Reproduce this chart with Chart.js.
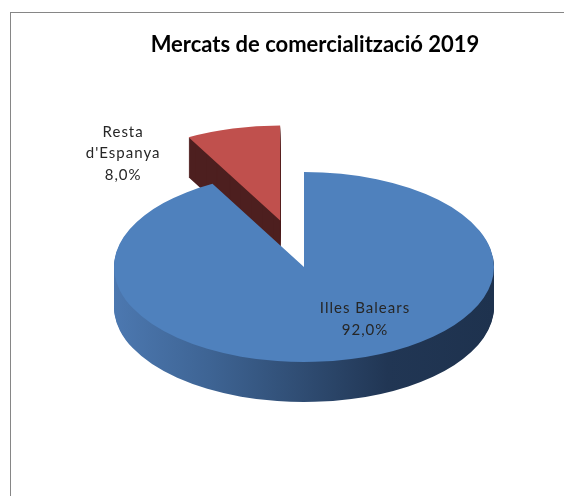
<!DOCTYPE html>
<html><head><meta charset="utf-8">
<script src="https://cdn.jsdelivr.net/npm/chart.js@4"></script>
<style>
html,body{margin:0;padding:0;background:#fff;overflow:hidden;width:564px;height:496px;}
#frame{position:absolute;left:10px;top:12px;width:700px;height:700px;border:1px solid #868686;box-sizing:border-box;}
#c{position:absolute;left:0;top:0;}
</style></head><body>
<div id="frame"></div>
<canvas id="c" width="564" height="496"></canvas>
<script>
// ---- data ----
const chartTitle = 'Mercats de comercialització 2019';
const categories = ["Illes Balears", "Resta d'Espanya"];
const labelLines = [["Illes Balears"], ["Resta", "d'Espanya"]];
const values = [92.0, 8.0];

// ---- style ----
const topColors = ['#4F81BD', '#C0504D'];
const redSide = '#4D1F1F';
const TILT = 0.5, DEPTH = 40;
const explode = [0, 96];
const labelOffset = [[61, 52], [-157, -67]];
const titlePos = [315, 52];

function pct(v){ const s = values.reduce((a,b)=>a+b,0); return (v/s*100).toFixed(1).replace('.', ',') + '%'; }
function sliceShift(arc, i){ const m=(arc.startAngle+arc.endAngle)/2; return [Math.cos(m)*explode[i], Math.sin(m)*explode[i]]; }
function drawArcWith(ctx, arc, i, fill, cx, cy, dy){
  ctx.save();
  ctx.translate(0, dy);
  ctx.translate(cx, cy); ctx.scale(1, TILT); ctx.translate(-cx, -cy);
  const [sx, sy] = sliceShift(arc, i);
  ctx.translate(sx, sy);
  const saved = arc.options;
  arc.options = Object.assign({}, saved, {backgroundColor: fill, borderWidth: 0});
  arc.draw(ctx);
  arc.options = saved;
  ctx.restore();
}
const pie3d = {
  id: 'pie3d',
  beforeDatasetsDraw(chart){
    const ctx = chart.ctx; const arcs = chart.getDatasetMeta(0).data;
    const cx = arcs[0].x, cy = arcs[0].y, R = arcs[0].outerRadius;
    const g = ctx.createLinearGradient(cx-R, 0, cx+R, 0);
    g.addColorStop(0, 'rgb(76,120,176)');
    g.addColorStop(0.25, 'rgb(62,100,148)');
    g.addColorStop(0.5, 'rgb(47,76,114)');
    g.addColorStop(0.72, 'rgb(33,54,84)');
    g.addColorStop(1, 'rgb(30,50,78)');
    for (let d = DEPTH; d >= 1; d--) arcs.forEach((a,i)=>drawArcWith(ctx, a, i, i===0 ? g : redSide, cx, cy, d));
    arcs.forEach((a,i)=>drawArcWith(ctx, a, i, topColors[i], cx, cy, 0));
    return false;
  },
  afterDraw(chart){
    const ctx = chart.ctx; const arcs = chart.getDatasetMeta(0).data;
    ctx.save();
    ctx.textAlign = 'center'; ctx.textBaseline = 'middle';
    ctx.font = '15px Lato'; ctx.fillStyle = '#262626';
    ctx.letterSpacing = '1px';
    arcs.forEach((a,i)=>{
      const [sx, sy] = sliceShift(a, i);
      const ax = a.x + sx + labelOffset[i][0], ay = a.y + sy*TILT + labelOffset[i][1];
      const lines = [...labelLines[i], pct(values[i])];
      const lh = 21.5;
      lines.forEach((t,k)=>ctx.fillText(t, ax, ay + (k-(lines.length-1)/2)*lh));
    });
    ctx.letterSpacing = '0px';
    ctx.font = 'bold 22px Lato'; ctx.fillStyle = '#000'; ctx.textBaseline = 'alphabetic';
    ctx.fillText(chartTitle, titlePos[0], titlePos[1]);
    ctx.restore();
  }
};
new Chart(document.getElementById('c'), {
  type: 'pie',
  data: { labels: categories, datasets: [{ data: values, backgroundColor: topColors, borderWidth: 0 }] },
  options: {
    responsive: false, animation: false, radius: 190,
    layout: { padding: { left: 44, right: 0, top: 38, bottom: 0 } },
    plugins: { legend: { display: false }, title: { display: false }, tooltip: { enabled: false } }
  },
  plugins: [pie3d]
});
</script>
</body></html>
